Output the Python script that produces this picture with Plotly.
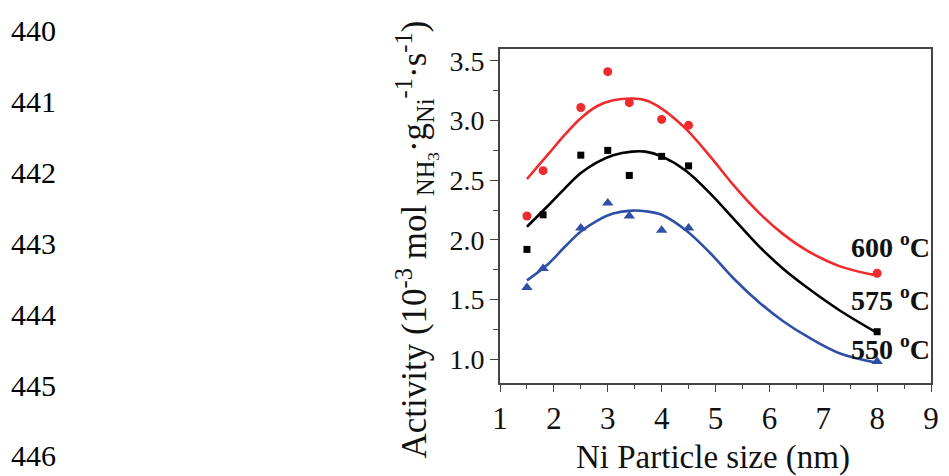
import plotly.graph_objects as go

# Measured data points
particle_size = [1.5, 1.8, 2.5, 3.0, 3.4, 4.0, 4.5, 8.0]
act_600 = [2.20, 2.58, 3.11, 3.41, 3.15, 3.01, 2.96, 1.72]
act_575 = [1.92, 2.21, 2.71, 2.75, 2.54, 2.70, 2.62, 1.23]
act_550 = [1.60, 1.76, 2.10, 2.31, 2.20, 2.08, 2.10, 0.98]

# Fitted curves
fit_x = [1.5, 1.9, 2.2, 2.5, 2.8, 3.1, 3.45, 3.7, 4.0, 4.45, 4.9, 5.35, 5.8, 6.25, 6.7, 7.3, 8.0]
fit_600 = [2.51, 2.72, 2.88, 3.02, 3.12, 3.17, 3.185, 3.17, 3.10, 2.93, 2.70, 2.45, 2.23, 2.05, 1.91, 1.78, 1.70]
fit_575 = [2.11, 2.29, 2.43, 2.56, 2.65, 2.71, 2.74, 2.74, 2.70, 2.58, 2.39, 2.17, 1.95, 1.76, 1.60, 1.41, 1.22]
fit_550 = [1.66, 1.80, 1.94, 2.07, 2.16, 2.22, 2.245, 2.24, 2.21, 2.08, 1.89, 1.67, 1.48, 1.32, 1.19, 1.05, 0.97]

series_labels = ["600 <sup>o</sup>C", "575 <sup>o</sup>C", "550 <sup>o</sup>C"]
label_y = [1.955, 1.51, 1.10]
label_x = 8.24

line_numbers = ["440", "441", "442", "443", "444", "445", "446"]
line_number_y = [31, 101.7, 172.5, 243, 314, 385.5, 455.7]

x_ticks = [1, 2, 3, 4, 5, 6, 7, 8, 9]
y_ticks = [1.0, 1.5, 2.0, 2.5, 3.0, 3.5]

RED = "#EF2B2D"
BLACK = "#000000"
BLUE = "#2E4FA5"
SERIF = "Liberation Serif, Times New Roman, serif"

W, H = 949, 476
L, R, T, B = 500, 10, 49, 93

fig = go.Figure()
for fx, fy, c in [(fit_x, fit_600, RED), (fit_x, fit_575, BLACK), (fit_x, fit_550, BLUE)]:
    fig.add_trace(go.Scatter(x=fx, y=fy, mode="lines", line=dict(color=c, width=2.6, shape="spline", smoothing=1.0),
                             showlegend=False, hoverinfo="skip"))

for ys, c, sym, sz in [(act_600, RED, "circle", 9), (act_575, BLACK, "square", 7), (act_550, BLUE, "triangle-up", 10)]:
    fig.add_trace(go.Scatter(x=particle_size, y=ys, mode="markers",
                             marker=dict(color=c, symbol=sym, size=sz, line=dict(width=0)),
                             showlegend=False))

annotations = []
for txt, yv in zip(series_labels, label_y):
    annotations.append(dict(x=label_x, y=yv, xref="x", yref="y", text="<b>" + txt + "</b>",
                            showarrow=False, xanchor="center", yanchor="middle",
                            font=dict(family=SERIF, size=28, color="#111")))

pw = W - L - R
ph = H - T - B
for txt, py in zip(line_numbers, line_number_y):
    annotations.append(dict(x=(0 - L) / pw, y=(H - B - py) / ph, xref="paper", yref="paper",
                            text=txt, showarrow=False, xanchor="left", yanchor="middle",
                            font=dict(family=SERIF, size=30, color="#000")))

# axis titles
annotations.append(dict(x=(717 - L) / pw, y=(H - B - 457) / ph, xref="paper", yref="paper",
                        text="Ni Particle size (nm)", showarrow=False, xanchor="center", yanchor="middle",
                        font=dict(family=SERIF, size=33, color="#111")))
annotations.append(dict(x=(414 - L) / pw, y=(H - B - 240) / ph, xref="paper", yref="paper",
                        text="Activity (10<sup>-3</sup> mol <sub>NH<sub>3</sub></sub>·g<sub>Ni</sub><sup>-1</sup>·s<sup>-1</sup>)",
                        textangle=-90, showarrow=False, xanchor="center", yanchor="middle",
                        font=dict(family=SERIF, size=35, color="#111")))

axis_common = dict(showline=True, linecolor="#444", linewidth=1.6, mirror=True, showgrid=False,
                   zeroline=False, ticks="outside", tickcolor="#444", tickwidth=1.4)

fig.update_layout(
    width=W, height=H,
    margin=dict(l=L, r=R, t=T, b=B),
    paper_bgcolor="white", plot_bgcolor="white",
    xaxis=dict(range=[1, 9], tickvals=x_ticks, ticktext=[str(v) for v in x_ticks], ticklen=7,
               tickfont=dict(family=SERIF, size=31, color="#111"),
               minor=dict(dtick=0.5, ticks="outside", ticklen=4, tickcolor="#444", tickwidth=1.2),
               **axis_common),
    yaxis=dict(range=[0.8, 3.6], tickvals=y_ticks, ticktext=[f"{v:.1f}" for v in y_ticks], ticklen=8,
               tickfont=dict(family=SERIF, size=28, color="#111"),
               minor=dict(dtick=0.25, tick0=0.75, ticks="outside", ticklen=5, tickcolor="#444", tickwidth=1.2),
               **axis_common),
    annotations=annotations,
)

fig.write_html("out.html", config={"displayModeBar": False},
               post_script="document.body.style.margin='0';document.body.style.overflow='hidden';")
